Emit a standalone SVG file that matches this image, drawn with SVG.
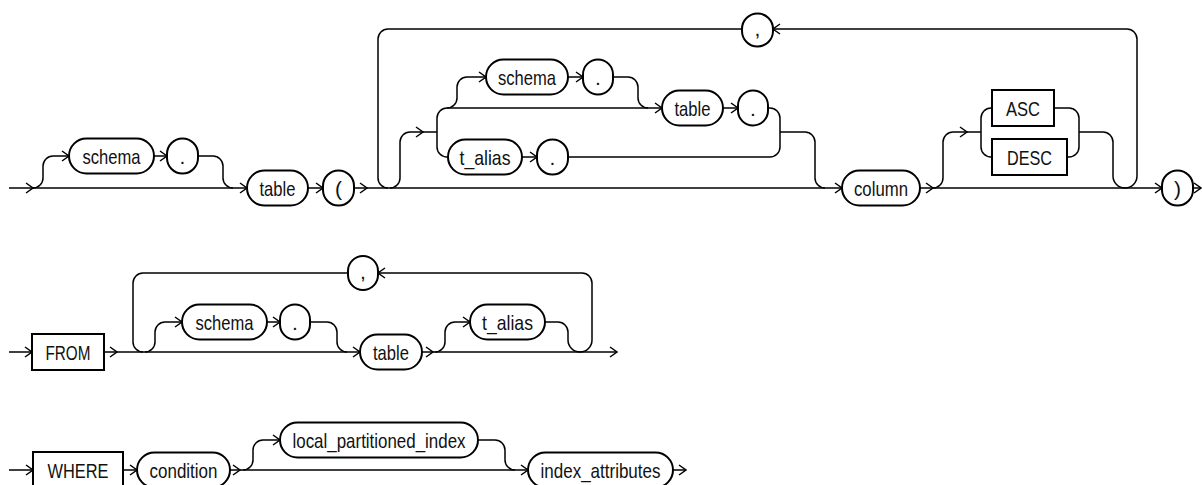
<svg xmlns="http://www.w3.org/2000/svg" xmlns:xlink="http://www.w3.org/1999/xlink" width="1202" height="485" viewBox="0 0 1202 485">
<style>
.p{fill:#fff;stroke:#000;stroke-width:2}
.k{fill:#fff;stroke:#000;stroke-width:2}
.c{fill:none;stroke:#000;stroke-width:1.5}
.t{font-family:"Liberation Sans",Arial,sans-serif;font-size:21px;fill:#111;text-anchor:middle}
</style>
<defs>
<path id="ar" d="M-7,-5 L0,0 L-7,5" fill="none" stroke="#000" stroke-width="1.5"/>
</defs>
<rect width="1202" height="485" fill="#fff"/>
<g id="connectors" class="c">
<!-- row 1 -->
<path d="M9,188 L247,188"/>
<path d="M33,188 A10,10 0 0 0 43,178 L43,166 A10,10 0 0 1 53,156 L69,156"/>
<path d="M154,156 L167,156"/>
<path d="M198,156 L213,156 A10,10 0 0 1 223,166 L223,178 A10,10 0 0 0 233,188"/>
<path d="M308,188 L323,188"/>
<path d="M354,188 L842,188"/>
<path d="M388,29 A10,10 0 0 0 378,39 L378,178 A10,10 0 0 0 388,188"/>
<path d="M388,29 L742,29"/>
<path d="M773,29 L1127,29 A10,10 0 0 1 1137,39 L1137,176 A12,12 0 0 1 1125,188"/>
<path d="M390,188 A10,10 0 0 0 400,178 L400,142 A10,10 0 0 1 410,132 L437,132"/>
<path d="M447,108 A10,10 0 0 0 437,118 L437,147 A10,10 0 0 0 447,157 L448,157"/>
<path d="M447,108 L662,108"/>
<path d="M447,108 A10,10 0 0 0 457,98 L457,87 A10,10 0 0 1 467,77 L486,77"/>
<path d="M568,77 L583,77"/>
<path d="M613,77 L628,77 A10,10 0 0 1 638,87 L638,98 A10,10 0 0 0 648,108"/>
<path d="M723,108 L738,108"/>
<path d="M768,108 L770,108 A10,10 0 0 1 780,118 L780,147 A10,10 0 0 1 770,157 L568,157"/>
<path d="M522,157 L537,157"/>
<path d="M780,132 L805,132 A10,10 0 0 1 815,142 L815,178 A10,10 0 0 0 825,188"/>
<path d="M920,188 L1162,188"/>
<path d="M933,188 A10,10 0 0 0 943,178 L943,142 A10,10 0 0 1 953,132 L981,132"/>
<path d="M992,108 L991,108 A10,10 0 0 0 981,118 L981,147 A10,10 0 0 0 991,157 L992,157"/>
<path d="M1054,108 L1069,108 A10,10 0 0 1 1079,118 L1079,147 A10,10 0 0 1 1069,157 L1067,157"/>
<path d="M1079,132 L1103,132 A10,10 0 0 1 1113,142 L1113,176 A12,12 0 0 0 1125,188"/>
<path d="M1193,188 L1201,188"/>
<!-- row 2 -->
<path d="M9,352 L32,352"/>
<path d="M104,352 L360,352"/>
<path d="M143,273 A10,10 0 0 0 133,283 L133,342 A10,10 0 0 0 143,352"/>
<path d="M143,273 L348,273"/>
<path d="M378,273 L582,273 A10,10 0 0 1 592,283 L592,340 A12,12 0 0 1 580,352"/>
<path d="M145,352 A10,10 0 0 0 155,342 L155,332 A10,10 0 0 1 165,322 L182,322"/>
<path d="M267,322 L280,322"/>
<path d="M310,322 L327,322 A10,10 0 0 1 337,332 L337,342 A10,10 0 0 0 347,352"/>
<path d="M422,352 L617,352"/>
<path d="M435,352 A10,10 0 0 0 445,342 L445,332 A10,10 0 0 1 455,322 L470,322"/>
<path d="M545,322 L558,322 A10,10 0 0 1 568,332 L568,340 A12,12 0 0 0 580,352"/>
<!-- row 3 -->
<path d="M9,470 L33,470"/>
<path d="M123,470 L137,470"/>
<path d="M230,470 L528,470"/>
<path d="M243,470 A10,10 0 0 0 253,460 L253,450 A10,10 0 0 1 263,440 L280,440"/>
<path d="M478,440 L495,440 A10,10 0 0 1 505,450 L505,460 A10,10 0 0 0 515,470"/>
<path d="M673,470 L686,470"/>
<!-- arrowheads -->
<use xlink:href="#ar" transform="translate(33,188)"/>
<use xlink:href="#ar" transform="translate(69,156)"/>
<use xlink:href="#ar" transform="translate(167,156)"/>
<use xlink:href="#ar" transform="translate(247,188)"/>
<use xlink:href="#ar" transform="translate(323,188)"/>
<use xlink:href="#ar" transform="translate(367,188)"/>
<use xlink:href="#ar" transform="translate(423,132)"/>
<use xlink:href="#ar" transform="translate(486,77)"/>
<use xlink:href="#ar" transform="translate(583,77)"/>
<use xlink:href="#ar" transform="translate(662,108)"/>
<use xlink:href="#ar" transform="translate(738,108)"/>
<use xlink:href="#ar" transform="translate(537,157)"/>
<use xlink:href="#ar" transform="translate(842,188)"/>
<use xlink:href="#ar" transform="translate(933,188)"/>
<use xlink:href="#ar" transform="translate(967,132)"/>
<use xlink:href="#ar" transform="translate(773,29) scale(-1,1)"/>
<use xlink:href="#ar" transform="translate(1162,188)"/>
<use xlink:href="#ar" transform="translate(1201,188)"/>
<use xlink:href="#ar" transform="translate(32,352)"/>
<use xlink:href="#ar" transform="translate(117,352)"/>
<use xlink:href="#ar" transform="translate(182,322)"/>
<use xlink:href="#ar" transform="translate(280,322)"/>
<use xlink:href="#ar" transform="translate(360,352)"/>
<use xlink:href="#ar" transform="translate(433,352)"/>
<use xlink:href="#ar" transform="translate(470,322)"/>
<use xlink:href="#ar" transform="translate(378,273) scale(-1,1)"/>
<use xlink:href="#ar" transform="translate(617,352)"/>
<use xlink:href="#ar" transform="translate(33,470)"/>
<use xlink:href="#ar" transform="translate(137,470)"/>
<use xlink:href="#ar" transform="translate(240,470)"/>
<use xlink:href="#ar" transform="translate(280,440)"/>
<use xlink:href="#ar" transform="translate(528,470)"/>
<use xlink:href="#ar" transform="translate(686,470)"/>
</g>
<!-- row 1 nodes -->
<g id="n-schema1"><rect class="p" x="69" y="138.5" width="85" height="35" rx="17.5"/><text class="t" x="111.5" y="163.5" textLength="58" lengthAdjust="spacingAndGlyphs">schema</text></g>
<g id="n-dot1"><rect class="p" x="167" y="138.5" width="31" height="35" rx="15.5"/><text class="t" x="182.5" y="163.5">.</text></g>
<g id="n-table1"><rect class="p" x="247" y="170.5" width="61" height="35" rx="17.5"/><text class="t" x="277.5" y="195.5" textLength="36" lengthAdjust="spacingAndGlyphs">table</text></g>
<g id="n-lparen"><rect class="p" x="323" y="170.5" width="31" height="35" rx="15.5"/><text class="t" x="338.5" y="195.5">(</text></g>
<g id="n-comma1"><rect class="p" x="742" y="13.5" width="31" height="33" rx="15.5"/><text class="t" x="757.5" y="36">,</text></g>
<g id="n-schema2"><rect class="p" x="486" y="59.5" width="82" height="35" rx="17.5"/><text class="t" x="527" y="84.5" textLength="58" lengthAdjust="spacingAndGlyphs">schema</text></g>
<g id="n-dot2"><rect class="p" x="583" y="59.5" width="30" height="35" rx="15"/><text class="t" x="598" y="84.5">.</text></g>
<g id="n-table2"><rect class="p" x="662" y="90.5" width="61" height="35" rx="17.5"/><text class="t" x="692.5" y="115.5" textLength="36" lengthAdjust="spacingAndGlyphs">table</text></g>
<g id="n-dot3"><rect class="p" x="738" y="90.5" width="30" height="35" rx="15"/><text class="t" x="753" y="115.5">.</text></g>
<g id="n-talias1"><rect class="p" x="448" y="139.5" width="74" height="35" rx="17.5"/><text class="t" x="485" y="164.5" textLength="51" lengthAdjust="spacingAndGlyphs">t_alias</text></g>
<g id="n-dot4"><rect class="p" x="537" y="139.5" width="31" height="35" rx="15.5"/><text class="t" x="552.5" y="164.5">.</text></g>
<g id="n-column"><rect class="p" x="842" y="170.5" width="78" height="35" rx="17.5"/><text class="t" x="881" y="195.5" textLength="54" lengthAdjust="spacingAndGlyphs">column</text></g>
<g id="n-asc"><rect class="k" x="992" y="90" width="62" height="36"/><text class="t" x="1023" y="115.5" textLength="34" lengthAdjust="spacingAndGlyphs">ASC</text></g>
<g id="n-desc"><rect class="k" x="992" y="139" width="75" height="36"/><text class="t" x="1029.5" y="164.5" textLength="45" lengthAdjust="spacingAndGlyphs">DESC</text></g>
<g id="n-rparen"><rect class="p" x="1162" y="170.5" width="31" height="35" rx="15.5"/><text class="t" x="1177.5" y="195.5">)</text></g>
<!-- row 2 nodes -->
<g id="n-from"><rect class="k" x="32" y="334" width="72" height="36"/><text class="t" x="68" y="359.5" textLength="45" lengthAdjust="spacingAndGlyphs">FROM</text></g>
<g id="n-comma2"><rect class="p" x="348" y="256" width="30" height="34" rx="15"/><text class="t" x="363" y="279">,</text></g>
<g id="n-schema3"><rect class="p" x="182" y="304.5" width="85" height="35" rx="17.5"/><text class="t" x="224.5" y="329.5" textLength="58" lengthAdjust="spacingAndGlyphs">schema</text></g>
<g id="n-dot5"><rect class="p" x="280" y="304.5" width="30" height="35" rx="15"/><text class="t" x="295" y="329.5">.</text></g>
<g id="n-table3"><rect class="p" x="360" y="334.5" width="62" height="35" rx="17.5"/><text class="t" x="391" y="359.5" textLength="36" lengthAdjust="spacingAndGlyphs">table</text></g>
<g id="n-talias2"><rect class="p" x="470" y="304.5" width="75" height="35" rx="17.5"/><text class="t" x="507.5" y="329.5" textLength="51" lengthAdjust="spacingAndGlyphs">t_alias</text></g>
<!-- row 3 nodes -->
<g id="n-where"><rect class="k" x="33" y="452" width="90" height="36"/><text class="t" x="78" y="477.5" textLength="61" lengthAdjust="spacingAndGlyphs">WHERE</text></g>
<g id="n-condition"><rect class="p" x="137" y="452.5" width="93" height="35" rx="17.5"/><text class="t" x="183.5" y="477.5" textLength="68" lengthAdjust="spacingAndGlyphs">condition</text></g>
<g id="n-lpi"><rect class="p" x="280" y="422.5" width="198" height="35" rx="17.5"/><text class="t" x="379" y="447.5" textLength="173" lengthAdjust="spacingAndGlyphs">local_partitioned_index</text></g>
<g id="n-idxattr"><rect class="p" x="528" y="452.5" width="145" height="35" rx="17.5"/><text class="t" x="600.5" y="477.5" textLength="120" lengthAdjust="spacingAndGlyphs">index_attributes</text></g>
</svg>
